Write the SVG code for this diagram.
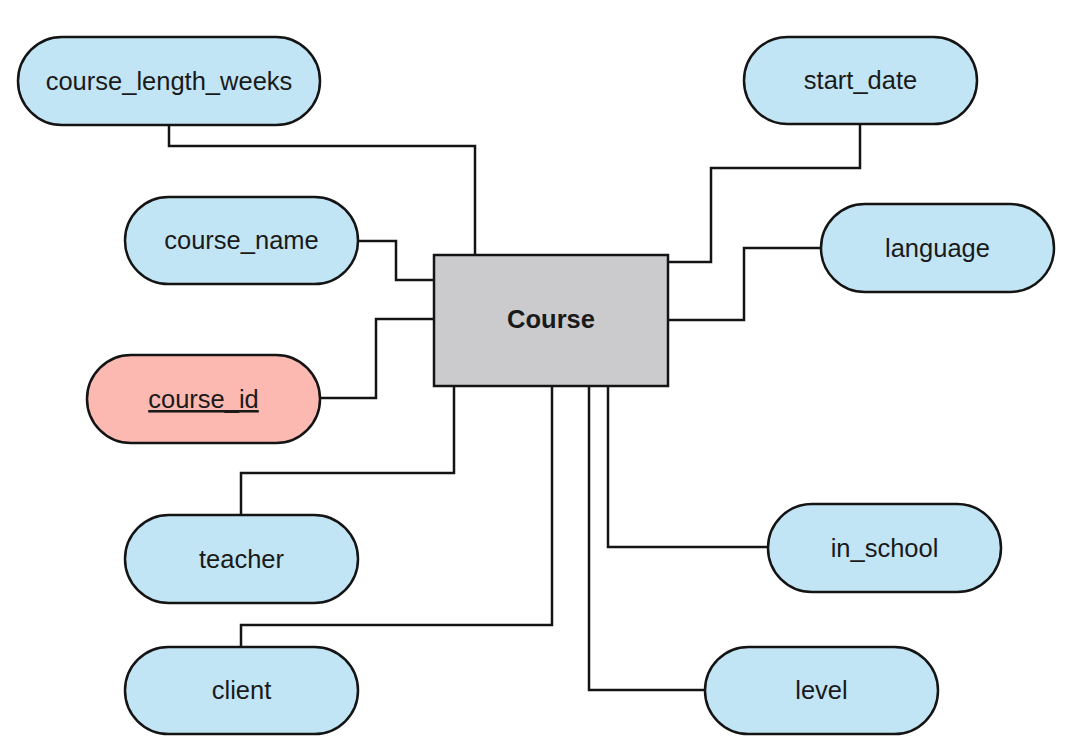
<svg xmlns="http://www.w3.org/2000/svg" width="1069" height="753" viewBox="0 0 1069 753">
<style>
.attr{fill:#c2e5f5;stroke:#141414;stroke-width:2.5}
.key{fill:#fbb9b1;stroke:#141414;stroke-width:2.5}
.ent{fill:#cbcbcd;stroke:#141414;stroke-width:2.5}
.t{font-family:"Liberation Sans",Arial,sans-serif;font-size:25.5px;fill:#1a1a1a;text-anchor:middle}
.b{font-weight:bold}
.u{text-decoration:underline}
.c{fill:none;stroke:#141414;stroke-width:2.5}
</style>
<rect width="1069" height="753" fill="#ffffff"/>
<g id="connectors">
<polyline class="c" points="169,125 169,146 475,146 475,255"/>
<polyline class="c" points="358,241 396,241 396,280 434,280"/>
<polyline class="c" points="320,398 376,398 376,319 434,319"/>
<polyline class="c" points="241,515 241,473 454,473 454,386"/>
<polyline class="c" points="241,647 241,625 552,625 552,386"/>
<polyline class="c" points="705,690 589,690 589,386"/>
<polyline class="c" points="768,547 608,547 608,386"/>
<polyline class="c" points="860,124 860,168 711,168 711,262 668,262"/>
<polyline class="c" points="821,248 744,248 744,320 668,320"/>
</g>
<g id="course">
<rect class="ent" x="434" y="255" width="234" height="131"/>
<text class="t b" x="551" y="328">Course</text>
</g>
<g id="course_length_weeks">
<rect class="attr" x="18" y="37" width="302" height="88" rx="44"/>
<text class="t" x="169" y="90">course_length_weeks</text>
</g>
<g id="course_name">
<rect class="attr" x="125" y="197" width="233" height="87" rx="43.5"/>
<text class="t" x="241.5" y="249">course_name</text>
</g>
<g id="course_id">
<rect class="key" x="87" y="355" width="233" height="88" rx="44"/>
<text class="t u" x="203.5" y="408">course_id</text>
</g>
<g id="teacher">
<rect class="attr" x="125" y="515" width="233" height="88" rx="44"/>
<text class="t" x="241.5" y="568">teacher</text>
</g>
<g id="client">
<rect class="attr" x="125" y="647" width="233" height="87" rx="43.5"/>
<text class="t" x="241.5" y="699">client</text>
</g>
<g id="start_date">
<rect class="attr" x="744" y="37" width="233" height="87" rx="43.5"/>
<text class="t" x="860.5" y="89">start_date</text>
</g>
<g id="language">
<rect class="attr" x="821" y="204" width="233" height="88" rx="44"/>
<text class="t" x="937.5" y="257">language</text>
</g>
<g id="in_school">
<rect class="attr" x="768" y="504" width="233" height="88" rx="44"/>
<text class="t" x="884.5" y="557">in_school</text>
</g>
<g id="level">
<rect class="attr" x="705" y="647" width="233" height="87" rx="43.5"/>
<text class="t" x="821.5" y="699">level</text>
</g>
</svg>
